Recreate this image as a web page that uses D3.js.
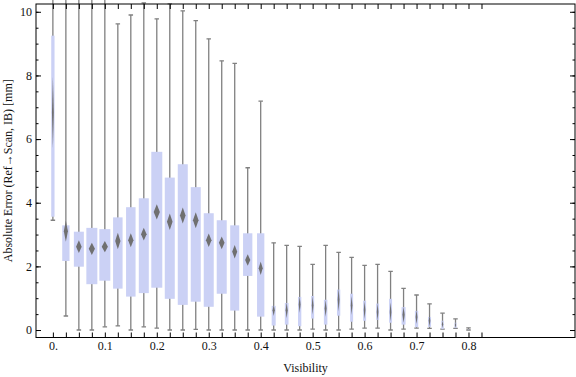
<!DOCTYPE html>
<html>
<head>
<meta charset="utf-8">
<script src="https://cdn.jsdelivr.net/npm/d3@7"></script>
<style>
  body { margin: 0; background: #fff; }
  svg text { font-family: "Liberation Serif", "Times New Roman", serif; font-size: 12px; fill: #111; }
</style>
</head>
<body>
<div id="chart"></div>
<script>
// visibility bins, 0 .. 0.8 in steps of 0.025
var visibility = d3.range(33).map(function(i) { return i * 0.025 })
var xLabels = ['0.', '0.1', '0.2', '0.3', '0.4', '0.5', '0.6', '0.7', '0.8']
var yLabels = [0, 2, 4, 6, 8, 10]

var whiskerLow = [3.45, 0.44, 0, 0, 0.1, 0.13, 0, 0.1, 0.06, 0, 0, 0.02, 0, 0, 0, 0, 0,
  0, 0, 0, 0.03, 0, 0, 0.03, 0.06, 0.06, 0, 0.03, 0.06, 0.05, 0.03, 0.05, 0]
var whiskerHigh = [14, 13, 12.5, 13.5, 12, 9.62, 9.9, 10.28, 9.78, 10.25, 10.03, 9.72, 9.15, 8.46, 8.38, 5.1, 7.19,
  2.74, 2.66, 2.63, 2.06, 2.66, 2.44, 2.28, 2.03, 2.06, 1.84, 1.31, 1.1, 0.82, 0.53, 0.35, 0.07]
var q3 = [9.25, 3.29, 3.09, 3.21, 3.17, 3.54, 3.86, 4.14, 5.6, 4.79, 5.21, 4.49, 3.67, 3.45, 3.29, 3.04, 3.04,
  0.76, 0.85, 1.04, 1.07, 0.95, 1.27, 1.14, 0.92, 0.83, 0.98, 0.72, 0.6, 0.41, 0.29, 0.23, 0.03]
var q1 = [3.56, 2.17, 1.99, 1.44, 1.55, 1.3, 1.05, 1.16, 1.33, 0.98, 0.79, 0.89, 0.73, 1.14, 0.61, 1.7, 0.42,
  0.14, 0.17, 0.12, 0.36, 0.17, 0.45, 0.26, 0.29, 0.32, 0.23, 0.17, 0.09, 0.1, 0.03, 0.06, 0.01]
var mean = [6.83, 3.1, 2.62, 2.55, 2.62, 2.8, 2.82, 3.01, 3.71, 3.4, 3.6, 3.45, 2.82, 2.74, 2.46, 2.2, 1.94,
  0.62, 0.62, 0.8, 0.78, 0.68, 0.95, 0.78, 0.63, 0.57, 0.57, 0.48, 0.41, 0.29, 0.18, 0.16, 0.03]
// half height of the mean confidence diamond
var meanCI = [1.12, 0.33, 0.2, 0.19, 0.18, 0.26, 0.22, 0.2, 0.24, 0.26, 0.25, 0.25, 0.21, 0.2, 0.21, 0.18, 0.21,
  0.18, 0.25, 0.26, 0.29, 0.26, 0.37, 0.3, 0.28, 0.28, 0.3, 0.25, 0.22, 0.18, 0.12, 0.1, 0]
// relative weight of each bin (drives box width)
var binWeight = [33, 73, 100, 110, 110, 95, 95, 100, 110, 100, 100, 100, 100, 100, 90, 93, 73,
  40, 37, 33, 30, 35, 33, 30, 30, 30, 30, 40, 33, 30, 23, 20, 8]

var W = 576, H = 377
var frame = { left: 36, right: 575, top: 4, bottom: 337.5 }

var svg = d3.select('#chart')
  .append('svg')
  .attr('width', W)
  .attr('height', H)

var defs = svg.append('defs')
defs.append('filter')
  .attr('id', 'soft')
  .attr('x', '-100%').attr('y', '-20%')
  .attr('width', '300%').attr('height', '140%')
  .append('feGaussianBlur')
  .attr('stdDeviation', 0.55)

var x = d3.scaleLinear()
  .domain([-0.0325, 1.005])
  .range([frame.left, frame.right])
var y = d3.scaleLinear()
  .domain([-0.235, 10.245])
  .range([frame.bottom, frame.top])
var wScale = d3.scaleLinear()
  .domain([0, d3.max(binWeight)])
  .range([0, 11])

var bins = visibility.map(function(v, i) {
  return { v: v, lo: whiskerLow[i], hi: whiskerHigh[i], q1: q1[i], q3: q3[i],
    mean: mean[i], ci: meanCI[i], w: wScale(binWeight[i]) }
})

var plot = svg.append('g')
var capW = 4.5

// whiskers
plot.selectAll('line.whisker')
  .data(bins)
  .enter()
  .append('line')
  .attr('class', 'whisker')
  .attr('x1', d => x(d.v)).attr('x2', d => x(d.v))
  .attr('y1', d => y(d.lo)).attr('y2', d => y(d.hi))
  .attr('stroke', '#808080')
  .attr('stroke-width', 1.3)

plot.selectAll('path.cap')
  .data(bins)
  .enter()
  .append('path')
  .attr('class', 'cap')
  .attr('d', d => 'M' + (x(d.v) - capW / 2) + ',' + y(d.lo) + 'H' + (x(d.v) + capW / 2) +
    'M' + (x(d.v) - capW / 2) + ',' + y(d.hi) + 'H' + (x(d.v) + capW / 2))
  .attr('stroke', '#808080')
  .attr('stroke-width', 1.3)

// boxes
plot.selectAll('rect.box')
  .data(bins)
  .enter()
  .append('rect')
  .attr('class', 'box')
  .attr('x', d => x(d.v) - d.w / 2)
  .attr('width', d => d.w)
  .attr('y', d => y(d.q3))
  .attr('height', d => y(d.q1) - y(d.q3))
  .attr('fill', '#cbd1f5')

// mean diamonds
plot.selectAll('path.diamond')
  .data(bins.filter(d => d.ci > 0))
  .enter()
  .append('path')
  .attr('class', 'diamond')
  .attr('d', function(d) {
    var cx = x(d.v), hw = d.w * 0.28
    return 'M' + cx + ',' + y(d.mean + d.ci) + 'L' + (cx + hw) + ',' + y(d.mean) +
      'L' + cx + ',' + y(d.mean - d.ci) + 'L' + (cx - hw) + ',' + y(d.mean) + 'Z'
  })
  .attr('fill', '#6f6f6f')
  .attr('filter', 'url(#soft)')

// frame
svg.append('rect')
  .attr('x', frame.left).attr('y', frame.top)
  .attr('width', frame.right - frame.left)
  .attr('height', frame.bottom - frame.top)
  .attr('fill', 'none')
  .attr('stroke', '#000')
  .attr('stroke-width', 1)

var xTicks = d3.range(34).map(function(i) { return i * 0.025 })
var labelAt = {}
xLabels.forEach(function(l, i) { labelAt[(i * 0.1).toFixed(3)] = l })

var xAxis = svg.append('g')
  .attr('transform', 'translate(0,' + frame.bottom + ')')
  .call(d3.axisBottom(x).tickValues(xTicks).tickSize(-5).tickPadding(4)
    .tickFormat(d => labelAt[d.toFixed(3)] || ''))
var xAxisTop = svg.append('g')
  .attr('transform', 'translate(0,' + frame.top + ')')
  .call(d3.axisTop(x).tickValues(xTicks).tickSize(-5).tickFormat(''))

var yMinor = d3.range(0, 10.01, 0.5)
var yAxis = svg.append('g')
  .attr('transform', 'translate(' + frame.left + ',0)')
  .call(d3.axisLeft(y).tickValues(yLabels).tickSize(-5).tickPadding(4).tickFormat(d3.format('d')))
svg.append('g')
  .attr('transform', 'translate(' + frame.left + ',0)')
  .call(d3.axisLeft(y).tickValues(yMinor).tickSize(-2.5).tickFormat(''))
svg.append('g')
  .attr('transform', 'translate(' + frame.right + ',0)')
  .call(d3.axisRight(y).tickValues(yLabels).tickSize(-5).tickFormat(''))
svg.append('g')
  .attr('transform', 'translate(' + frame.right + ',0)')
  .call(d3.axisRight(y).tickValues(yMinor).tickSize(-2.5).tickFormat(''))

svg.selectAll('.domain').remove()
svg.selectAll('.tick line').attr('stroke', '#000')
svg.selectAll('.tick text')
  .style('font-family', '"Liberation Serif", "Times New Roman", serif')
  .style('font-size', '12px')
  .attr('fill', '#111')

svg.append('text')
  .attr('x', (frame.left + frame.right) / 2)
  .attr('y', 372)
  .attr('text-anchor', 'middle')
  .text('Visibility')

svg.append('text')
  .attr('transform', 'translate(11.5,' + (frame.top + frame.bottom) / 2 + ') rotate(-90)')
  .attr('text-anchor', 'middle')
  .text('Absolute Error (Ref\u2192Scan, IB) [mm]')
</script>
</body>
</html>
